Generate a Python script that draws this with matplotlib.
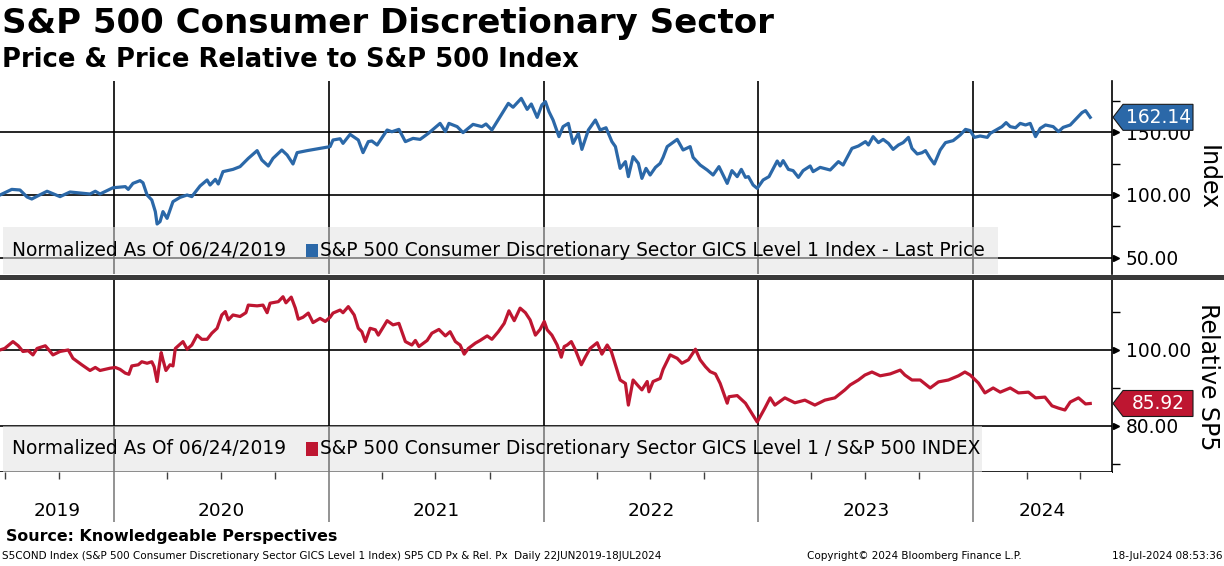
import matplotlib
matplotlib.use("Agg")
import matplotlib.pyplot as plt
import matplotlib.patches as mpatches
import matplotlib.transforms as mtransforms
import pandas as pd

# ---------------------------------------------------------------------------
# DATA (days counted from 22-Jun-2019)
# ---------------------------------------------------------------------------
START = pd.Timestamp("2019-06-22")
AXIS_DAYS = 1890

price_days = [0, 20, 34, 46, 54, 63, 80, 102, 119, 153, 162, 170, 192, 213, 218,
              226, 238, 243, 250, 258, 264, 267, 272, 277, 284, 294, 306, 318,
              326, 340, 352, 357, 366, 371, 379, 396, 408, 422, 437, 445, 456,
              464, 479, 488, 498, 505, 522, 544, 561, 566, 578, 583, 595, 609,
              617, 626, 632, 641, 658, 666, 678, 689, 702, 714, 728, 748, 757,
              763, 777, 787, 804, 819, 826, 836, 850, 864, 872, 886, 896, 903,
              913, 921, 927, 933, 940, 950, 957, 966, 974, 983, 989, 1000, 1012,
              1020, 1030, 1040, 1046, 1054, 1063, 1068, 1076, 1085, 1091, 1098,
              1105, 1114, 1122, 1127, 1134, 1151, 1161, 1173, 1178, 1190, 1202,
              1212, 1222, 1236, 1244, 1253, 1260, 1267, 1272, 1280, 1287, 1297,
              1307, 1321, 1326, 1331, 1340, 1348, 1357, 1365, 1377, 1382, 1394,
              1411, 1425, 1433, 1448, 1459, 1471, 1476, 1484, 1493, 1501, 1510,
              1518, 1527, 1535, 1544, 1550, 1559, 1567, 1573, 1581, 1588, 1598,
              1607, 1620, 1632, 1641, 1649, 1656, 1666, 1678, 1683, 1695, 1703,
              1710, 1717, 1726, 1734, 1743, 1751, 1760, 1768, 1777, 1790, 1799,
              1807, 1819, 1828, 1839, 1845, 1853]
price_vals = [100, 104.5, 104, 98.4, 96.8, 99, 103, 98.7, 102.4, 100.8, 103, 100.8,
              105.8, 106.7, 104.5, 109.3, 111.5, 109.8, 100, 96, 86.7, 76.8, 78.7,
              86.7, 81.3, 94.7, 98.1, 100, 98.7, 107.2, 112, 108, 112.5, 108.8,
              118.7, 120.5, 122.7, 129.3, 135.5, 128, 123.2, 129.3, 136, 132,
              124.8, 133.9, 135.5, 137.3, 138.7, 144, 145, 141.3, 148.5, 144,
              133.9, 142.7, 143.2, 140, 152, 150.6, 152.5, 142.7, 145.3, 144.5,
              149.3, 157.3, 150.7, 157.3, 154.7, 149.9, 156.5, 154.7, 156.8, 152,
              162.7, 173.3, 170.2, 177.3, 168.5, 172.8, 162.1, 172, 174.7, 166.7,
              160, 146.7, 154.7, 157.3, 141.3, 149.3, 136.5, 152, 160, 152, 153.8,
              142.7, 138.7, 121.3, 126.7, 114.7, 130.7, 125.3, 113.3, 121.3, 116,
              122.1, 125.3, 130.1, 138.7, 144.5, 136, 138.7, 130.1, 124, 120, 116,
              122.7, 109.3, 119.5, 114.7, 120.5, 114.1, 114.7, 108, 105.3, 112,
              114.7, 127.2, 123.2, 127.5, 120.5, 119.5, 114.1, 119.5, 123.2,
              118.7, 122.1, 120, 126.7, 124, 137.3, 139.2, 142.7, 140, 146.7,
              141.9, 144.5, 141.3, 136.5, 140, 141.9, 146.1, 137.3, 132.8, 133.8,
              135.5, 129.3, 124.8, 136, 141.9, 143.5, 148, 152.5, 151.5, 146.1,
              147.2, 146.1, 149.3, 152.5, 154.7, 157.9, 154.7, 153.8, 157.3, 156,
              157.3, 146.7, 153.3, 156, 154.7, 150.7, 154.1, 156, 160.5, 165.9,
              167.5, 162.14]

rel_days = [0, 8, 22, 31, 39, 48, 56, 63, 77, 82, 90, 102, 116, 124, 139, 153, 162,
            170, 187, 196, 204, 213, 219, 224, 235, 241, 250, 258, 262, 267, 270,
            274, 277, 282, 289, 294, 298, 303, 311, 318, 326, 335, 343, 352, 360,
            369, 377, 383, 388, 396, 408, 418, 422, 437, 447, 454, 459, 473, 481,
            486, 495, 502, 507, 515, 524, 532, 544, 553, 561, 566, 578, 583, 592,
            602, 609, 615, 621, 629, 638, 643, 658, 668, 678, 689, 700, 706, 712,
            726, 734, 746, 757, 765, 774, 782, 789, 796, 808, 816, 828, 836, 847,
            857, 865, 874, 884, 893, 901, 910, 918, 925, 930, 938, 947, 954, 959,
            964, 971, 978, 988, 995, 1003, 1015, 1023, 1032, 1039, 1046, 1054,
            1063, 1068, 1076, 1085, 1091, 1100, 1103, 1110, 1122, 1127, 1139,
            1151, 1159, 1170, 1182, 1190, 1199, 1207, 1216, 1224, 1236, 1239,
            1253, 1267, 1275, 1287, 1300, 1309, 1317, 1334, 1351, 1368, 1385,
            1402, 1419, 1436, 1445, 1459, 1470, 1482, 1496, 1513, 1530, 1538,
            1550, 1564, 1581, 1595, 1612, 1629, 1640, 1649, 1663, 1674, 1688,
            1700, 1717, 1731, 1748, 1760, 1776, 1788, 1799, 1810, 1819, 1833,
            1845, 1853]
rel_vals = [100, 100.4, 102.2, 101.1, 99.6, 99.8, 98.7, 100.4, 101.1, 100.2, 98.7,
            99.6, 100, 97.8, 96.1, 94.6, 95.4, 94.6, 95.2, 95.4, 94.9, 93.9, 93.6,
            95.8, 96.1, 96.9, 96.5, 96.9, 95.6, 91.7, 95.2, 99.3, 97.4, 94.6,
            96.1, 95.8, 100.4, 101.1, 102.2, 100.2, 101.3, 103.9, 102.8, 102.8,
            104.4, 105.7, 109.2, 110.1, 107.9, 109.2, 108.8, 109.8, 111.8, 111.6,
            111.8, 109.8, 112.3, 112.7, 114, 112.4, 113.9, 111, 108.1, 108.6,
            109.7, 107.2, 108.3, 107.5, 108.6, 109.7, 110.5, 109.8, 111.4, 109.2,
            105.7, 104.8, 102.2, 105.7, 105.3, 103.9, 107.7, 106.6, 107, 102.2,
            101.3, 102.5, 100.9, 102.5, 104.4, 105.4, 103.7, 104.8, 102.2, 101.3,
            98.9, 100.4, 101.8, 102.5, 103.7, 102.8, 104.8, 107, 110.3, 107.7,
            111, 109.8, 107.9, 103.9, 105.4, 107.5, 105.3, 103.9, 101.3, 98.1,
            100.9, 101.3, 102.2, 100, 96.1, 98.2, 100.4, 101.9, 98.9, 101.3, 99.6,
            96.1, 92.1, 91.2, 85.5, 92.1, 90.5, 89.5, 91.7, 89, 91.7, 92.5, 94.9,
            98.7, 97.8, 96.5, 97.4, 100.2, 97.4, 95.6, 94.3, 93.7, 91.2, 86, 87.7,
            88, 86, 84, 81.05, 84.7, 87.4, 85.5, 87.4, 86.1, 86.8, 85.5, 86.8,
            87.4, 89.5, 90.8, 92.1, 93.4, 94.2, 93.2, 93.7, 94.7, 93.4, 92.1,
            92.1, 90, 91.6, 92.1, 93.2, 94.2, 93.4, 91.3, 88.7, 90, 88.9, 90,
            88.7, 88.9, 87.4, 87.6, 85.3, 84.7, 84.2, 86.3, 87.4, 85.8, 85.92]

years = [2019, 2020, 2021, 2022, 2023, 2024]
price_ticks = [50, 100, 150]
price_minor = [75, 125, 175]
rel_ticks = [80, 100]
rel_minor = [70, 90, 110]

BLUE = "#2b68a8"
RED = "#be1631"
W, H = 1224, 566


def fx(px):
    return px / W


def fy(py):
    return 1 - py / H


plt.rcParams["font.family"] = ["DejaVu Sans"]

fig = plt.figure(figsize=(W / 100, H / 100), dpi=100)

ax_w = 1112 / W
ax1 = fig.add_axes([0, fy(274), ax_w, (274 - 81) / H])
ax2 = fig.add_axes([0, fy(472), ax_w, (472 - 280) / H])
ax3 = fig.add_axes([0, fy(522), ax_w, (522 - 472) / H])

p_dates = START + pd.to_timedelta(price_days, unit="D")
r_dates = START + pd.to_timedelta(rel_days, unit="D")
x0, x1 = START, START + pd.Timedelta(days=AXIS_DAYS)
year_starts = [pd.Timestamp(f"{y}-01-01") for y in years[1:]]

panels = [
    (ax1, p_dates, price_vals, BLUE, (36.8, 191.2), price_ticks, price_minor),
    (ax2, r_dates, rel_vals, RED, (67.9, 118.4), rel_ticks, rel_minor),
]
for ax, d, v, col, ylim, ticks, minor in panels:
    ax.plot(d, v, color=col, lw=2.3, zorder=3, solid_joinstyle="round")
    ax.set_xlim(x0, x1)
    ax.set_ylim(*ylim)
    for t in ticks:
        ax.axhline(t, color="black", lw=1.2, zorder=1)
    for ys in year_starts:
        ax.axvline(ys, color="black", lw=1.2, zorder=1)
    ax.set_xticks([])
    ax.yaxis.tick_right()
    ax.set_yticks(ticks)
    ax.set_yticklabels([f"{t:.2f}" for t in ticks])
    ax.set_yticks(minor, minor=True)
    ax.tick_params(axis="y", which="major", length=0, pad=10, labelsize=13.4)
    ax.tick_params(axis="y", which="minor", length=6, width=1, color="black")
    ax.plot([1.004] * len(ticks), ticks, ">", color="black", ms=5,
            transform=ax.get_yaxis_transform(), clip_on=False, zorder=5)
    for s in ["left", "top", "bottom"]:
        ax.spines[s].set_visible(False)
    ax.spines["right"].set_linewidth(1.2)

ax2.spines["bottom"].set_visible(True)
ax2.spines["bottom"].set_linewidth(1.2)

# legend boxes
legends = [
    (ax1, 998, (274 - 227) / 193, BLUE,
     "S&P 500 Consumer Discretionary Sector GICS Level 1 Index - Last Price"),
    (ax2, 982, (472 - 426) / 192, RED,
     "S&P 500 Consumer Discretionary Sector GICS Level 1 / S&P 500 INDEX"),
]
for ax, right_px, hfrac, col, label in legends:
    ax.add_patch(mpatches.Rectangle((3 / 1112, 0), (right_px - 3) / 1112, hfrac,
                                    transform=ax.transAxes, facecolor="#e2e2e2",
                                    alpha=0.55, edgecolor="none", zorder=4))
    yc = hfrac / 2
    ax.text(12 / 1112, yc, "Normalized As Of 06/24/2019", transform=ax.transAxes,
            fontsize=13.4, va="center", ha="left", zorder=6)
    ax.add_patch(mpatches.Rectangle((306 / 1112, yc - 0.036), 12 / 1112, 0.072,
                                    transform=ax.transAxes, facecolor=col,
                                    edgecolor="none", zorder=6))
    ax.text(320 / 1112, yc, label, transform=ax.transAxes,
            fontsize=13.4, va="center", ha="left", zorder=6)

# date band
ax3.set_xlim(x0, x1)
ax3.set_ylim(0, 1)
ax3.set_yticks([])
for s in ax3.spines.values():
    s.set_visible(False)
for ys in year_starts:
    ax3.axvline(ys, color="#808080", lw=1.2)
quarters = [d for d in pd.date_range("2019-07-01", "2024-07-01", freq="QS")
            if d.month != 1]
ax3.set_xticks(quarters)
ax3.tick_params(axis="x", top=True, bottom=False, direction="in", length=5,
                width=1, labeltop=False, labelbottom=False, color="#404040")
bounds = [x0] + year_starts + [x1]
for y, a, b in zip(years, bounds[:-1], bounds[1:]):
    ax3.text(a + (b - a) / 2, 0.22, str(y), fontsize=13.3, ha="center",
             va="center")

# separator bar between panels
fig.add_artist(mpatches.Rectangle((0, fy(279.5)), 1, 5 / H, transform=fig.transFigure,
                                  facecolor="#3a3a3a", edgecolor="none"))

# last value tags
ident = mtransforms.IdentityTransform()
for ax, val, col in [(ax1, price_vals[-1], BLUE), (ax2, rel_vals[-1], RED)]:
    xt, yt = ax.get_yaxis_transform().transform((1, val))
    xt += 1
    h = 13
    pts = [(xt, yt), (xt + 10, yt + h), (xt + 80, yt + h), (xt + 80, yt - h),
           (xt + 10, yt - h)]
    fig.add_artist(mpatches.Polygon(pts, closed=True, transform=ident,
                                    facecolor=col, edgecolor="#1a1a1a", lw=0.8,
                                    zorder=10))
    fig.text(xt + 45, yt, f"{val:.2f}", transform=ident, color="white",
             fontsize=13.4, ha="center", va="center", zorder=11)

# axis titles
fig.text(fx(1208), fy(178), "Index", rotation=270, fontsize=17,
         ha="center", va="center")
fig.text(fx(1208), fy(377), "Relative SP5", rotation=270, fontsize=17,
         ha="center", va="center")

# titles
fig.text(fx(2), fy(23), "S&P 500 Consumer Discretionary Sector", fontsize=24.5,
         fontweight="bold", ha="left", va="center")
fig.text(fx(2), fy(60), "Price & Price Relative to S&P 500 Index", fontsize=18.6,
         fontweight="bold", ha="left", va="center")

# footer
fig.text(fx(6), fy(537), "Source: Knowledgeable Perspectives", fontsize=11.4,
         fontweight="bold", ha="left", va="center")
fig.text(fx(2), fy(556),
         "S5COND Index (S&P 500 Consumer Discretionary Sector GICS Level 1 Index) "
         "SP5 CD Px & Rel. Px  Daily 22JUN2019-18JUL2024",
         fontsize=7.5, ha="left", va="center")
fig.text(fx(807), fy(556), "Copyright\u00a9 2024 Bloomberg Finance L.P.",
         fontsize=7.5, ha="left", va="center")
fig.text(fx(1222), fy(556), "18-Jul-2024 08:53:36", fontsize=7.5,
         ha="right", va="center")

fig.savefig("out.png", dpi=100)
